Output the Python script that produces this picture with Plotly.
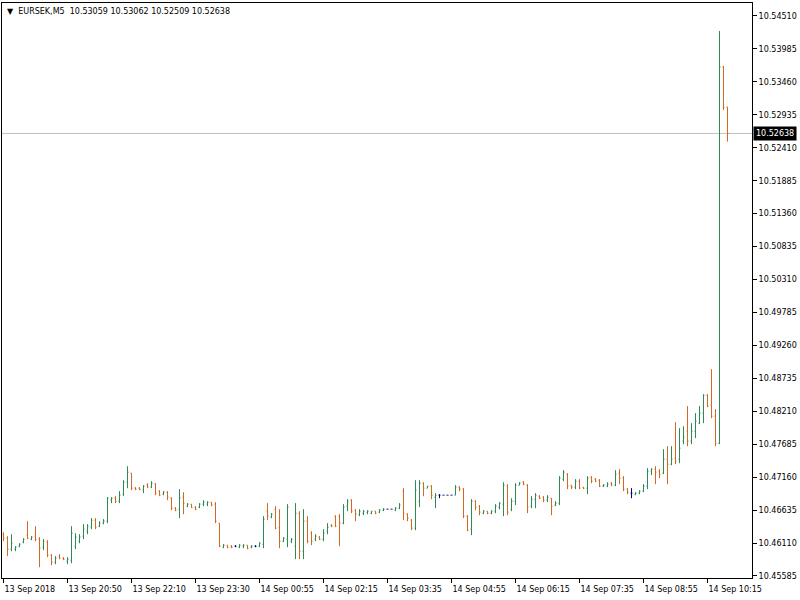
import plotly.graph_objects as go

symbol = "EURSEK,M5"

open_ = [10.46251,10.46188,10.46012,10.46012,10.46060,10.46124,10.46236,10.46172,10.46220,10.46172,
10.46044,10.46124,10.45917,10.45805,10.45901,10.45869,10.45821,10.45837,10.46060,10.46140,
10.46220,10.46299,10.46363,10.46475,10.46379,10.46427,10.46459,10.46793,10.46825,10.46777,
10.46889,10.47080,10.47224,10.46985,10.46985,10.46953,10.47033,10.47001,10.47048,10.46937,
10.46889,10.46921,10.46825,10.46666,10.46650,10.46841,10.46698,10.46730,10.46682,10.46682,
10.46730,10.46730,10.46762,10.46730,10.46427,10.46044,10.46076,10.46060,10.46060,10.46044,
10.46060,10.46076,10.46044,10.46060,10.46060,10.46092,10.46618,10.46522,10.46650,10.46363,
10.46140,10.46172,10.46140,10.46060,10.46586,10.45980,10.46459,10.46267,10.46172,10.46204,
10.46172,10.46299,10.46395,10.46538,10.46538,10.46427,10.46698,10.46793,10.46634,10.46570,
10.46586,10.46602,10.46586,10.46618,10.46602,10.46634,10.46650,10.46650,10.46634,10.46666,
10.46937,10.46570,10.46475,10.46347,10.46777,10.47064,10.46985,10.47017,10.46841,10.46873,
10.46873,10.46873,10.46873,10.46873,10.47001,10.46969,10.46538,10.46331,10.46777,10.46698,
10.46586,10.46618,10.46586,10.46618,10.46682,10.46730,10.47017,10.46650,10.46777,10.47033,
10.47080,10.47033,10.46698,10.46809,10.46857,10.46841,10.46793,10.46825,10.46714,10.46746,
10.47128,10.47208,10.47033,10.47001,10.47096,10.47001,10.46985,10.47160,10.47128,10.47112,
10.47017,10.47017,10.47064,10.47033,10.47224,10.47144,10.46969,10.46905,10.46889,10.46905,
10.46937,10.47017,10.47256,10.47288,10.47256,10.47224,10.47447,10.47367,10.47463,10.47447,
10.47734,10.47893,10.47734,10.47893,10.48021,10.48180,10.48467,10.48308,10.48132,10.47702,
10.53697,10.53059]

high = [10.46283,10.46220,10.46251,10.46060,10.46108,10.46188,10.46459,10.46220,10.46379,10.46204,
10.46172,10.46156,10.45933,10.45901,10.45933,10.45885,10.45885,10.46379,10.46267,10.46251,
10.46411,10.46411,10.46507,10.46507,10.46459,10.46491,10.46841,10.46841,10.46857,10.46937,
10.47112,10.47335,10.47224,10.47001,10.47001,10.47033,10.47064,10.47096,10.47064,10.46953,
10.46937,10.46937,10.46841,10.46682,10.46969,10.46921,10.46746,10.46730,10.46698,10.46746,
10.46793,10.46777,10.46762,10.46762,10.46427,10.46092,10.46076,10.46076,10.46076,10.46092,
10.46092,10.46076,10.46076,10.46076,10.46124,10.46538,10.46746,10.46586,10.46698,10.46650,
10.46204,10.46730,10.46188,10.46746,10.46618,10.46650,10.46538,10.46299,10.46251,10.46220,
10.46331,10.46427,10.46411,10.46554,10.46570,10.46730,10.46809,10.46809,10.46650,10.46650,
10.46634,10.46634,10.46618,10.46618,10.46650,10.46666,10.46650,10.46650,10.46682,10.46746,
10.46985,10.46586,10.46491,10.47112,10.47112,10.47080,10.47017,10.47033,10.46905,10.46889,
10.46873,10.46873,10.46873,10.47033,10.47017,10.46985,10.46554,10.46809,10.46793,10.46714,
10.46634,10.46618,10.46634,10.46730,10.46762,10.47080,10.47048,10.46825,10.47064,10.47080,
10.47096,10.47048,10.46857,10.46905,10.46873,10.46857,10.46873,10.46825,10.46777,10.47176,
10.47272,10.47224,10.47033,10.47128,10.47128,10.47001,10.47176,10.47176,10.47144,10.47128,
10.47048,10.47080,10.47080,10.47272,10.47288,10.47176,10.46985,10.46985,10.46921,10.46953,
10.47048,10.47303,10.47303,10.47335,10.47288,10.47606,10.47654,10.47654,10.48037,10.47941,
10.47973,10.48292,10.48021,10.48180,10.48292,10.48483,10.48483,10.48881,10.48244,10.54271,
10.53713,10.53062]

low = [10.46140,10.45901,10.45980,10.45980,10.46044,10.46108,10.46172,10.46156,10.46140,10.45725,
10.45996,10.45885,10.45757,10.45773,10.45853,10.45837,10.45773,10.45789,10.46012,10.46108,
10.46172,10.46251,10.46331,10.46331,10.46363,10.46411,10.46427,10.46746,10.46746,10.46746,
10.46857,10.46985,10.46953,10.46953,10.46953,10.46905,10.46985,10.46985,10.46873,10.46857,
10.46873,10.46793,10.46634,10.46618,10.46507,10.46570,10.46682,10.46666,10.46634,10.46666,
10.46698,10.46698,10.46698,10.46427,10.46044,10.46028,10.46028,10.46028,10.46044,10.46028,
10.46028,10.46012,10.46028,10.46044,10.46044,10.46028,10.46475,10.46507,10.46331,10.46028,
10.46124,10.46044,10.46108,10.45853,10.45853,10.45853,10.46108,10.46076,10.46140,10.46156,
10.46140,10.46251,10.46363,10.46363,10.46060,10.46411,10.46618,10.46586,10.46459,10.46538,
10.46554,10.46570,10.46570,10.46570,10.46586,10.46618,10.46650,10.46650,10.46618,10.46650,
10.46475,10.46459,10.46315,10.46315,10.46682,10.46857,10.46985,10.46809,10.46666,10.46825,
10.46873,10.46873,10.46873,10.46873,10.46937,10.46507,10.46299,10.46236,10.46634,10.46554,
10.46570,10.46570,10.46570,10.46586,10.46650,10.46538,10.46554,10.46618,10.46714,10.47033,
10.47033,10.46586,10.46666,10.46666,10.46809,10.46762,10.46762,10.46554,10.46698,10.46714,
10.47096,10.46969,10.46969,10.46969,10.46969,10.46969,10.46889,10.47064,10.47080,10.47001,
10.47001,10.47001,10.47017,10.47017,10.47048,10.46937,10.46889,10.46825,10.46873,10.46889,
10.46921,10.46969,10.47192,10.47048,10.47144,10.47208,10.47048,10.47351,10.47367,10.47383,
10.47686,10.47654,10.47686,10.47782,10.48005,10.48021,10.48276,10.48100,10.47654,10.47686,
10.53012,10.52509]

close = [10.46188,10.46012,10.46108,10.46044,10.46092,10.46172,10.46188,10.46204,10.46172,10.46028,
10.46140,10.45917,10.45805,10.45869,10.45869,10.45853,10.45853,10.46267,10.46204,10.46204,
10.46331,10.46379,10.46475,10.46363,10.46427,10.46459,10.46825,10.46825,10.46777,10.46873,
10.47080,10.47240,10.46985,10.46969,10.46969,10.47017,10.47001,10.47064,10.46905,10.46873,
10.46921,10.46841,10.46666,10.46634,10.46825,10.46746,10.46730,10.46682,10.46650,10.46730,
10.46762,10.46762,10.46714,10.46459,10.46060,10.46076,10.46044,10.46044,10.46060,10.46076,
10.46076,10.46028,10.46060,10.46060,10.46108,10.46491,10.46538,10.46570,10.46347,10.46140,
10.46188,10.46682,10.46172,10.46586,10.45980,10.46459,10.46140,10.46140,10.46220,10.46172,
10.46267,10.46363,10.46379,10.46379,10.46427,10.46682,10.46777,10.46618,10.46570,10.46618,
10.46618,10.46618,10.46618,10.46586,10.46634,10.46650,10.46650,10.46650,10.46666,10.46714,
10.46586,10.46507,10.46347,10.46953,10.47064,10.46985,10.47017,10.46873,10.46873,10.46873,
10.46873,10.46873,10.46873,10.47001,10.46969,10.46538,10.46315,10.46777,10.46682,10.46602,
10.46618,10.46586,10.46618,10.46698,10.46746,10.47033,10.46602,10.46777,10.47033,10.47064,
10.47048,10.46682,10.46809,10.46873,10.46825,10.46793,10.46841,10.46698,10.46746,10.47144,
10.47240,10.47017,10.47001,10.47096,10.46985,10.46985,10.47144,10.47096,10.47096,10.47017,
10.47033,10.47048,10.47033,10.47208,10.47144,10.46969,10.46921,10.46905,10.46905,10.46937,
10.47017,10.47256,10.47288,10.47240,10.47208,10.47447,10.47367,10.47447,10.47415,10.47622,
10.47798,10.47734,10.47893,10.48053,10.48180,10.48467,10.48292,10.48132,10.47702,10.53697,
10.53055,10.52638]

tick_bars = [0, 16, 32, 48, 64, 80, 96, 112, 128, 144, 160, 176]
tick_labels = ["13 Sep 2018", "13 Sep 20:50", "13 Sep 22:10", "13 Sep 23:30",
               "14 Sep 00:55", "14 Sep 02:15", "14 Sep 03:35", "14 Sep 04:55",
               "14 Sep 06:15", "14 Sep 07:35", "14 Sep 08:55", "14 Sep 10:15"]
price_labels = ["10.45585", "10.46110", "10.46635", "10.47160", "10.47685", "10.48210",
                "10.48735", "10.49260", "10.49785", "10.50310", "10.50835", "10.51360",
                "10.51885", "10.52410", "10.52935", "10.53460", "10.53985", "10.54510"]

UP = "#2E8B57"
DOWN = "#D2691E"
DOJI = "#000080"
FONT = dict(family="DejaVu Sans", size=8, color="#000000")

idx = list(range(len(open_)))
normal = [i for i in idx if open_[i] != close[i]]
doji = [i for i in idx if open_[i] == close[i]]

def sub(arr, ids):
    return [arr[i] for i in ids]

fig = go.Figure()
fig.add_trace(go.Ohlc(
    x=normal, open=sub(open_, normal), high=sub(high, normal),
    low=sub(low, normal), close=sub(close, normal),
    increasing=dict(line=dict(color=UP, width=1)),
    decreasing=dict(line=dict(color=DOWN, width=1)),
    tickwidth=0.25, showlegend=False, hoverinfo="skip"))
fig.add_trace(go.Ohlc(
    x=doji, open=sub(open_, doji), high=sub(high, doji),
    low=sub(low, doji), close=sub(close, doji),
    increasing=dict(line=dict(color=DOJI, width=1)),
    decreasing=dict(line=dict(color=DOJI, width=1)),
    tickwidth=0.25, showlegend=False, hoverinfo="skip"))

last = close[-1]
fig.add_shape(type="line", xref="paper", x0=0, x1=1, yref="y", y0=last, y1=last,
              line=dict(color="#C0C0C0", width=1), layer="below")

fig.add_annotation(xref="paper", x=1, xanchor="left", xshift=1, yref="y", y=last,
                   yanchor="middle", text=f"{last:.5f}", showarrow=False,
                   bgcolor="#000000", font=dict(family="DejaVu Sans", size=8, color="#FFFFFF"),
                   borderpad=2)

header = ("\u25BC\u00a0\u00a0" + symbol + "\u00a0\u00a0" +
          f"{open_[-1]:.5f} {high[-1]:.5f} {low[-1]:.5f} {close[-1]:.5f}")
fig.add_annotation(xref="paper", x=0, xanchor="left", xshift=3, yref="paper", y=1,
                   yanchor="top", yshift=-2, text=header, showarrow=False, font=FONT)

fig.update_layout(
    width=800, height=600, autosize=False,
    margin=dict(l=2, r=48, t=3, b=22),
    paper_bgcolor="#FFFFFF", plot_bgcolor="#FFFFFF",
    font=FONT, showlegend=False, hovermode=False,
    xaxis=dict(range=[-0.375, 187.125], tickvals=tick_bars, ticktext=tick_labels,
               ticks="outside", ticklen=4, tickcolor="#000000",
               ticklabelposition="outside right", ticklabelstandoff=3,
               showline=True, linecolor="#000000", linewidth=1, mirror=True,
               showgrid=False, zeroline=False, rangeslider=dict(visible=False),
               tickfont=FONT),
    yaxis=dict(range=[10.45553, 10.54717], side="right",
               tickvals=[float(v) for v in price_labels], ticktext=price_labels,
               ticks="outside", ticklen=4, tickcolor="#000000",
               showline=True, linecolor="#000000", linewidth=1, mirror=True,
               showgrid=False, zeroline=False, tickfont=FONT),
)

fig.write_html("out.html", config={"displayModeBar": False},
               post_script="document.body.style.margin='0';")
